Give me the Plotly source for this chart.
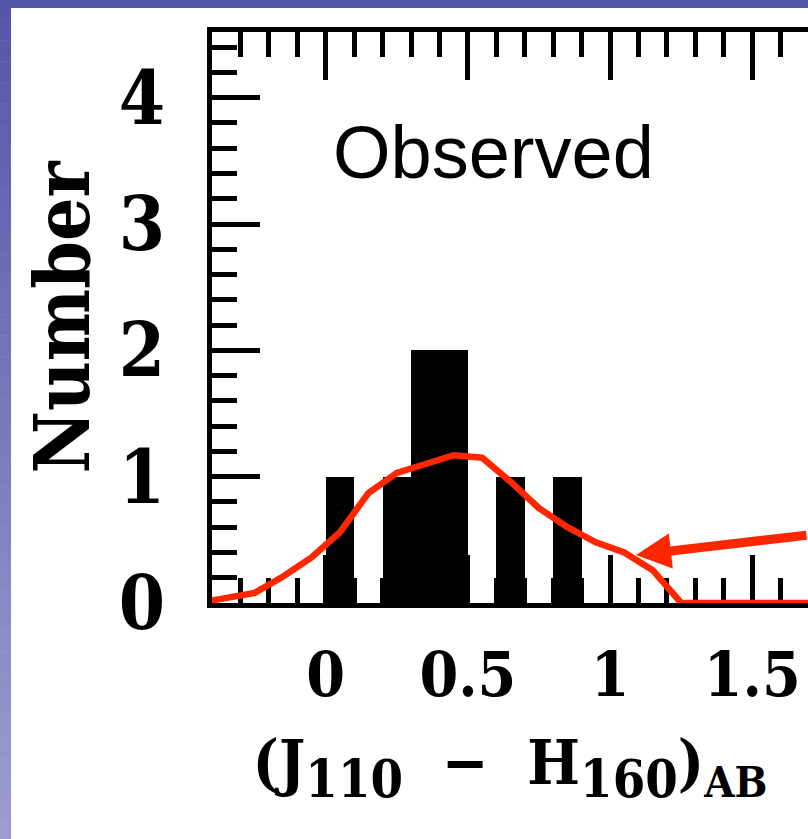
import plotly.graph_objects as go

# ---- data ----
bin_centers = [0.05, 0.25, 0.35, 0.45, 0.65, 0.85]
counts = [1, 1, 2, 2, 1, 1]
bin_width = 0.1

curve_x = [-0.45, -0.35, -0.25, -0.15, -0.05, 0.05, 0.15, 0.25, 0.35, 0.45, 0.55,
           0.65, 0.75, 0.85, 0.95, 1.05, 1.15, 1.25, 1.35, 1.45, 1.55, 1.65, 1.75]
curve_y = [0.0, 0.04, 0.08, 0.21, 0.36, 0.56, 0.87, 1.03, 1.10, 1.17, 1.15,
           0.96, 0.75, 0.60, 0.48, 0.40, 0.26, 0.0, 0.0, 0.0, 0.0, 0.0, 0.0]

x_tickvals = [0, 0.5, 1, 1.5]
x_ticktext = ["0", "0.5", "1", "1.5"]
y_tickvals = [0, 1, 2, 3, 4]
y_ticktext = ["0", "1", "2", "3", "4"]

panel_label = "Observed"
x_title = ("(J<sub><span style='font-size:52px'>110</span></sub>  \u2212  "
           "H<sub><span style='font-size:52px'>160</span></sub>)<sub>AB</sub>")
y_title = "Number"

RED = "#ff2600"
SERIF = "DejaVu Serif Condensed, Liberation Serif, serif"

W, H = 808, 839
ML, MR, MT, MB = 212, 0, 32, 236
PW, PH = W - ML - MR, H - MT - MB

fig = go.Figure()
fig.add_trace(go.Bar(x=bin_centers, y=counts, width=bin_width,
                     marker=dict(color="black", line=dict(width=0)),
                     showlegend=False, hoverinfo="skip"))
fig.add_trace(go.Scatter(x=curve_x, y=curve_y, mode="lines",
                         line=dict(color=RED, width=6.5),
                         showlegend=False, hoverinfo="skip"))

tick_common = dict(ticks="inside", ticklen=48, tickwidth=5, tickcolor="black",
                   showgrid=False, zeroline=False)

fig.update_layout(
    width=W, height=H,
    margin=dict(l=ML, r=MR, t=MT, b=MB, pad=0),
    paper_bgcolor="white", plot_bgcolor="white",
    bargap=0, showlegend=False,
    xaxis=dict(range=[-0.4, 1.696], tickvals=x_tickvals, ticktext=x_ticktext,
               showline=True, linewidth=5, linecolor="black", mirror="ticks",
               layer="below traces",
               minor=dict(dtick=0.1, tick0=0, ticks="inside", ticklen=25,
                          tickwidth=5, tickcolor="black"),
               tickfont=dict(family=SERIF, size=62, color="black", weight="bold"),
               ticklabelstandoff=14,
               title=dict(text=x_title, standoff=32,
                          font=dict(family=SERIF, size=62, color="black", weight="bold")),
               **tick_common),
    yaxis=dict(range=[0, 4.52], tickvals=y_tickvals, ticktext=y_ticktext,
               showline=True, linewidth=5, linecolor="black",
               layer="below traces",
               minor=dict(dtick=0.2, tick0=0, ticks="inside", ticklen=25,
                          tickwidth=5, tickcolor="black"),
               tickfont=dict(family=SERIF, size=74, color="black", weight="bold"),
               ticklabelstandoff=27,
               title=dict(text=y_title, standoff=6,
                          font=dict(family=SERIF, size=76, color="black", weight="bold")),
               **tick_common),
    yaxis2=dict(range=[0, 4.52], overlaying="y", side="right", anchor="x",
                tickvals=y_tickvals, showticklabels=False, showline=False,
                layer="below traces",
                minor=dict(dtick=0.2, tick0=0, ticks="inside", ticklen=25,
                           tickwidth=5, tickcolor="black"),
                **tick_common),
)

# panel label
fig.add_annotation(x=0.59, y=3.57, xref="x", yref="y", text=panel_label,
                   showarrow=False, xanchor="center", yanchor="middle",
                   font=dict(family="Liberation Sans", size=74, color="black"))

# red arrow pointing at the curve
fig.add_annotation(x=1.091, y=0.38, xref="x", yref="y", text="",
                   showarrow=True, ax=190, ay=-20, axref="pixel", ayref="pixel",
                   arrowhead=2, arrowwidth=9, arrowsize=0.78, arrowcolor=RED,
                   standoff=0)

# slide frame: blue strips on the top and left edges (left one graded)
def px2paper_x(px):
    return (px - ML) / PW

def px2paper_y(py):
    return (H - MB - py) / PH

top_c = (84, 87, 168)
bot_c = (156, 156, 210)
fig.add_shape(type="rect", xref="paper", yref="paper", layer="above",
              x0=px2paper_x(0), x1=px2paper_x(W + 2), y0=px2paper_y(8), y1=px2paper_y(-2),
              fillcolor="rgb(84,87,168)", line=dict(width=0))
n = 40
for i in range(n):
    t = i / (n - 1)
    c = tuple(int(round(a + (b - a) * t)) for a, b in zip(top_c, bot_c))
    y_top = -2 + i * (H + 4) / n
    y_bot = -2 + (i + 1) * (H + 4) / n + 0.5
    fig.add_shape(type="rect", xref="paper", yref="paper", layer="above",
                  x0=px2paper_x(-2), x1=px2paper_x(11),
                  y0=px2paper_y(y_bot), y1=px2paper_y(y_top),
                  fillcolor="rgb(%d,%d,%d)" % c, line=dict(width=0))

fig.write_html("out.html", config={"displayModeBar": False},
               post_script="document.body.style.margin='0';document.body.style.padding='0';")
